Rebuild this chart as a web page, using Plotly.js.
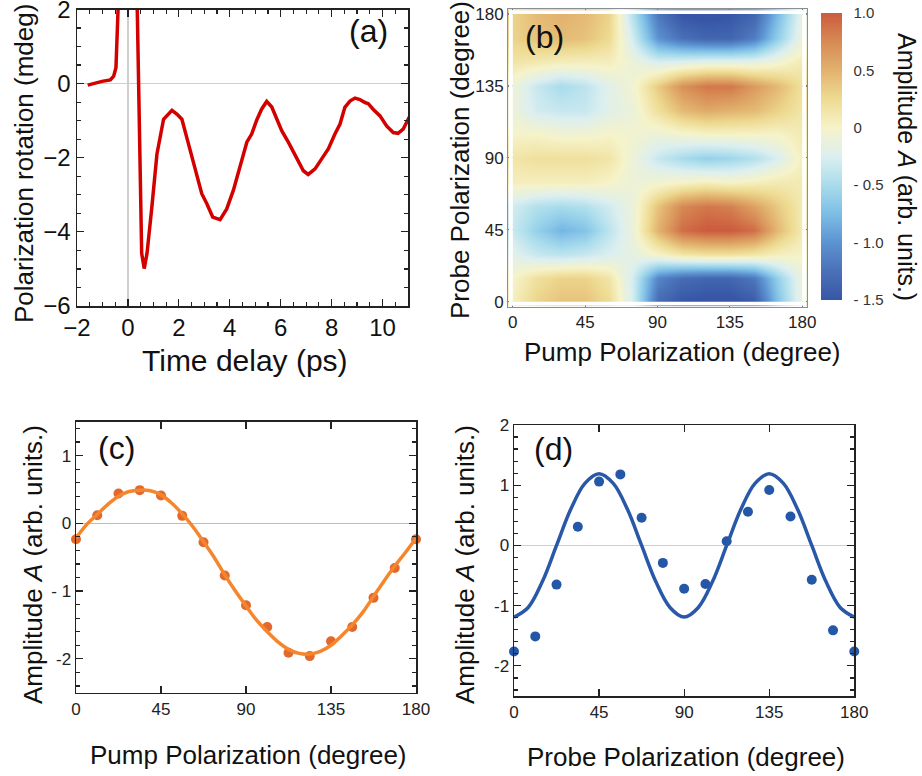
<!DOCTYPE html>
<html>
<head>
<meta charset="utf-8">
<script src="https://cdn.plot.ly/plotly-3.0.1.min.js"></script>
<style>html,body{margin:0;padding:0;background:#fff;}#chart{width:922px;height:776px;}</style>
</head>
<body>
<div id="chart"></div>
<script>
// ---------- Panel (a): polarization rotation vs time delay ----------
const timeDelay = [-1.58,-1.28,-1.02,-0.69,-0.56,-0.47,-0.43,-0.38,-0.1,0.15,0.34,0.42,0.48,0.54,0.64,0.75,0.94,1.14,1.4,1.53,1.73,1.92,2.12,2.31,2.58,2.9,3.1,3.33,3.62,3.88,4.14,4.41,4.67,4.86,5.06,5.25,5.45,5.65,5.84,6.04,6.3,6.63,6.89,7.08,7.35,7.61,7.87,8.13,8.33,8.52,8.72,8.92,9.11,9.31,9.44,9.63,9.9,10.16,10.42,10.61,10.81,11.05];
const rotation  = [-0.04,0.02,0.06,0.10,0.2,0.43,1.3,3.0,7.5,7.5,3.0,0,-2.26,-4.58,-4.99,-4.58,-3.33,-1.9,-0.96,-0.87,-0.72,-0.82,-0.96,-1.45,-2.17,-2.97,-3.24,-3.6,-3.67,-3.38,-2.88,-2.21,-1.58,-1.36,-0.98,-0.69,-0.48,-0.63,-0.96,-1.27,-1.58,-2.03,-2.35,-2.45,-2.3,-2.03,-1.76,-1.36,-1.09,-0.64,-0.47,-0.39,-0.43,-0.51,-0.54,-0.69,-0.87,-1.14,-1.32,-1.34,-1.23,-0.9];

// ---------- Panel (b): amplitude map ----------
const pumpAngles  = [0,15,30,45,60,75,90,105,120,135,150,165,180];
const probeAngles = [0,15,30,45,60,75,90,105,120,135,150,165,180];
const amplitudeMap = [
  [0.05,0.3,0.4,0.4,0.25,-0.3,-1.3,-1.5,-1.55,-1.55,-1.45,-0.7,-0.1],
  [0.0,0.2,0.3,0.3,0.15,-0.3,-1.1,-1.3,-1.35,-1.35,-1.2,-0.6,-0.1],
  [-0.2,-0.35,-0.4,-0.35,-0.25,-0.15,0.0,0.15,0.2,0.2,0.15,0.05,0.0],
  [-0.35,-0.6,-0.8,-0.7,-0.4,-0.1,0.5,0.9,1.0,1.0,0.9,0.45,0.1],
  [-0.3,-0.45,-0.5,-0.45,-0.3,-0.1,0.4,0.75,0.85,0.8,0.6,0.35,0.1],
  [0.05,0.05,0.05,0.05,0.0,-0.1,-0.05,0.0,0.05,0.0,0.05,0.1,0.1],
  [0.15,0.2,0.2,0.2,0.15,-0.1,-0.35,-0.5,-0.6,-0.55,-0.45,-0.25,0.05],
  [0.0,0.0,-0.05,-0.05,0.0,-0.05,-0.1,-0.05,0.0,0.0,0.0,0.0,0.1],
  [-0.1,-0.3,-0.35,-0.35,-0.2,-0.1,0.2,0.45,0.55,0.5,0.45,0.3,0.15],
  [-0.1,-0.35,-0.5,-0.4,-0.2,-0.05,0.35,0.7,0.85,0.85,0.65,0.45,0.2],
  [0.15,0.1,0.05,0.05,0.05,-0.1,-0.25,-0.2,-0.15,-0.15,-0.15,-0.05,0.1],
  [0.3,0.4,0.45,0.4,0.25,-0.3,-1.0,-1.25,-1.35,-1.35,-1.15,-0.6,-0.1],
  [0.3,0.45,0.5,0.45,0.3,-0.45,-1.2,-1.5,-1.55,-1.5,-1.35,-0.75,-0.15]
];
const cbTickVals = [1.0,0.5,0,-0.5,-1.0,-1.5];
const cbTickText = ["1.0","0.5","0","- 0.5","- 1.0","- 1.5"];

// ---------- Panel (c): amplitude vs pump polarization ----------
const pumpPts = [0,11.25,22.5,33.75,45,56.25,67.5,78.75,90,101.25,112.5,123.75,135,146.25,157.5,168.75,180];
const pumpAmp = [-0.235,0.12,0.44,0.49,0.41,0.11,-0.28,-0.77,-1.21,-1.53,-1.91,-1.96,-1.74,-1.53,-1.10,-0.66,-0.235];
const pumpFitX = [0,5.6,11.25,16.9,22.5,28.1,33.75,39.4,45,50.6,56.25,61.9,67.5,73.1,78.75,84.4,90,95.6,101.25,106.9,112.5,118.1,123.75,129.4,135,140.6,146.25,151.9,157.5,163.1,168.75,174.4,180];
const pumpFitY = [-0.22,-0.02,0.13,0.28,0.40,0.47,0.49,0.48,0.42,0.30,0.14,-0.05,-0.27,-0.50,-0.76,-1.0,-1.22,-1.43,-1.6,-1.75,-1.86,-1.92,-1.93,-1.89,-1.8,-1.66,-1.5,-1.31,-1.08,-0.85,-0.63,-0.43,-0.22];

// ---------- Panel (d): amplitude vs probe polarization ----------
const probePts = [0,11.25,22.5,33.75,45,56.25,67.5,78.75,90,101.25,112.5,123.75,135,146.25,157.5,168.75,180];
const probeAmp = [-1.76,-1.51,-0.65,0.31,1.06,1.18,0.46,-0.29,-0.72,-0.64,0.07,0.56,0.92,0.48,-0.57,-1.41,-1.76];
const probeFitX = [0,7.5,15,22.5,30,37.5,45,52.5,60,67.5,75,82.5,90,97.5,105,112.5,120,127.5,135,142.5,150,157.5,165,172.5,180];
const probeFitY = [-1.19,-1.03,-0.6,0.0,0.6,1.03,1.19,1.03,0.6,0.0,-0.6,-1.03,-1.19,-1.03,-0.6,0.0,0.6,1.03,1.19,1.03,0.6,0.0,-0.6,-1.03,-1.19];

const W = 922, H = 776;
const px = v => v / W;
const py = v => 1 - v / H;
const FONT = "Arial, 'Liberation Sans', sans-serif";

const traces = [
  {x: timeDelay, y: rotation, type: 'scatter', mode: 'lines', xaxis: 'x', yaxis: 'y',
   line: {color: '#d30000', width: 3.5}, showlegend: false, hoverinfo: 'skip'},
  {x: pumpAngles, y: probeAngles, z: amplitudeMap, type: 'heatmap', xaxis: 'x2', yaxis: 'y2',
   zsmooth: 'best', zmin: -1.5, zmax: 1.0,
   colorscale: [[0,'#3757a6'],[0.1,'#4a71b8'],[0.2,'#5c93d1'],[0.3,'#7dbde6'],[0.4,'#a8dcec'],[0.5,'#dceff0'],[0.6,'#f6f3c9'],[0.7,'#eedb92'],[0.8,'#e2b26e'],[0.9,'#d78a55'],[1,'#cc5b3d']],
   colorbar: {x: px(821), xanchor: 'left', xpad: 0, y: py(156.5), yanchor: 'middle', ypad: 0,
     len: 287, lenmode: 'pixels', thickness: 21, thicknessmode: 'pixels', outlinewidth: 0,
     tickvals: cbTickVals, ticktext: cbTickText, ticks: 'outside', ticklen: 9, tickcolor: 'rgba(0,0,0,0)',
     tickfont: {family: FONT, size: 15, color: '#333'}},
   hoverinfo: 'skip'},
  {x: pumpPts, y: pumpAmp, type: 'scatter', mode: 'markers', xaxis: 'x3', yaxis: 'y3',
   marker: {color: '#e2682c', size: 10}, cliponaxis: false, showlegend: false},
  {x: pumpFitX, y: pumpFitY, type: 'scatter', mode: 'lines', xaxis: 'x3', yaxis: 'y3',
   line: {color: '#f5862e', width: 3.5, shape: 'spline'}, showlegend: false},
  {x: probePts, y: probeAmp, type: 'scatter', mode: 'markers', xaxis: 'x4', yaxis: 'y4',
   marker: {color: '#2457a7', size: 10}, cliponaxis: false, showlegend: false},
  {x: probeFitX, y: probeFitY, type: 'scatter', mode: 'lines', xaxis: 'x4', yaxis: 'y4',
   line: {color: '#2a58a8', width: 3.5, shape: 'spline'}, showlegend: false}
];

const axBase = {showgrid: false, showline: true, mirror: 'allticks', ticks: 'inside', linecolor: '#222', linewidth: 1.5,
  tickcolor: '#222', tickwidth: 1.2, zeroline: false, ticklabeloverflow: 'allow'};

function ann(text, x, y, size, angle) {
  return {text: text, xref: 'paper', yref: 'paper', x: px(x), y: py(y), xanchor: 'center', yanchor: 'middle',
    textangle: angle || 0, showarrow: false, font: {size: size, color: '#111'}};
}

const layout = {
  width: W, height: H, margin: {l: 0, r: 0, t: 0, b: 0},
  paper_bgcolor: '#fff', plot_bgcolor: '#fff', showlegend: false,
  font: {family: FONT, color: '#111'},
  xaxis: Object.assign({}, axBase, {domain: [px(77), px(408)], range: [-2, 11], anchor: 'y',
    tickvals: [-2,0,2,4,6,8,10], ticklen: 7, tickfont: {size: 24, color: '#111'},
    minor: {dtick: 0.5, tick0: 0, ticklen: 4, ticks: 'inside', tickcolor: '#222'},
    zeroline: true, zerolinecolor: '#cfcfcf', zerolinewidth: 1.2}),
  yaxis: Object.assign({}, axBase, {domain: [py(306), py(9.5)], range: [-6, 2], anchor: 'x',
    tickvals: [-6,-4,-2,0,2], ticklen: 7, tickfont: {size: 24, color: '#111'},
    minor: {dtick: 0.5, tick0: 0, ticklen: 4, ticks: 'inside', tickcolor: '#222'},
    zeroline: true, zerolinecolor: '#cfcfcf', zerolinewidth: 1.2}),
  xaxis2: Object.assign({}, axBase, {domain: [px(508), px(807)], range: [-3, 183], anchor: 'y2',
    tickvals: [0,45,90,135,180], ticklen: 5, linecolor: '#8a8f96', tickcolor: '#6a7a8a', linewidth: 1,
    tickfont: {size: 17, color: '#222'}}),
  yaxis2: Object.assign({}, axBase, {domain: [py(306.5), py(9.2)], range: [-3, 183], anchor: 'x2',
    tickvals: [0,45,90,135,180], ticklen: 5, linecolor: '#8a8f96', tickcolor: '#6a7a8a', linewidth: 1,
    tickfont: {size: 17, color: '#222'}}),
  xaxis3: Object.assign({}, axBase, {domain: [px(76), px(416)], range: [0, 180], anchor: 'y3',
    tickvals: [0,45,90,135,180], ticklen: 7, tickfont: {size: 17, color: '#222'}}),
  yaxis3: Object.assign({}, axBase, {domain: [py(692.7), py(421.7)], range: [-2.5, 1.5], anchor: 'x3',
    tickvals: [-2,-1,0,1], ticktext: ['-2','- 1','0','1'], ticklen: 7, tickfont: {size: 17, color: '#222'},
    minor: {dtick: 0.2, tick0: 0, ticklen: 4, ticks: 'inside', tickcolor: '#222'},
    zeroline: true, zerolinecolor: '#bdbdbd', zerolinewidth: 1}),
  xaxis4: Object.assign({}, axBase, {domain: [px(514), px(854.3)], range: [0, 180], anchor: 'y4',
    tickvals: [0,45,90,135,180], ticklen: 7, tickfont: {size: 17, color: '#222'}}),
  yaxis4: Object.assign({}, axBase, {domain: [py(696), py(425)], range: [-2.5, 2], anchor: 'x4',
    tickvals: [-2,-1,0,1,2], ticktext: ['-2','-1','0','1','2'], ticklen: 7, tickfont: {size: 17, color: '#222'},
    minor: {dtick: 0.2, tick0: 0, ticklen: 4, ticks: 'inside', tickcolor: '#222'},
    zeroline: true, zerolinecolor: '#cfcfcf', zerolinewidth: 1.2}),
  shapes: [
    {type: 'rect', xref: 'x2', yref: 'y2', x0: -2.4, x1: 0, y0: -2.4, y1: 182.4, fillcolor: '#fff', line: {width: 0}, layer: 'above'},
    {type: 'rect', xref: 'x2', yref: 'y2', x0: 180, x1: 182.4, y0: -2.4, y1: 182.4, fillcolor: '#fff', line: {width: 0}, layer: 'above'},
    {type: 'rect', xref: 'x2', yref: 'y2', x0: -2.4, x1: 182.4, y0: -2.4, y1: 0, fillcolor: '#fff', line: {width: 0}, layer: 'above'},
    {type: 'rect', xref: 'x2', yref: 'y2', x0: -2.4, x1: 182.4, y0: 180, y1: 182.4, fillcolor: '#fff', line: {width: 0}, layer: 'above'}
  ],
  annotations: [
    ann('(a)', 368, 31, 32),
    ann('(b)', 544, 37, 32),
    ann('(c)', 116, 448, 32),
    ann('(d)', 553, 449, 32),
    ann('Time delay (ps)', 245, 360, 30),
    ann('Polarization rotation (mdeg)', 24, 164, 26, -90),
    ann('Pump Polarization (degree)', 682, 352, 26),
    ann('Probe Polarization (degree)', 460, 160, 26, -90),
    ann('Amplitude <i>A</i> (arb. units.)', 907, 167, 25, 90),
    ann('Pump Polarization (degree)', 248, 755, 26),
    ann('Amplitude <i>A</i> (arb. units.)', 33, 565, 26, -90),
    ann('Probe Polarization (degree)', 686, 757, 26),
    ann('Amplitude <i>A</i> (arb. units.)', 465, 565, 26, -90)
  ]
};

Plotly.newPlot('chart', traces, layout, {displayModeBar: false, staticPlot: true});
</script>
</body>
</html>
